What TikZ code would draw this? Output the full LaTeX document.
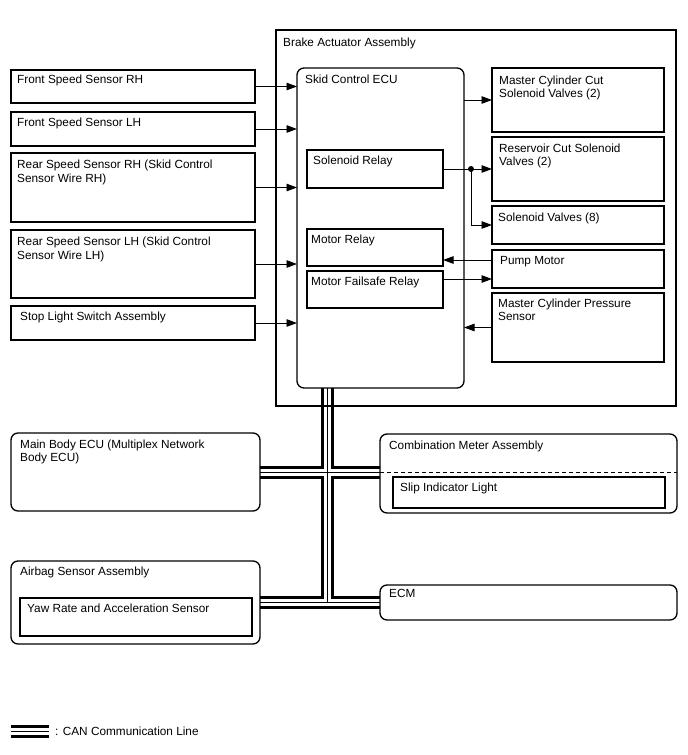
\documentclass[tikz,border=0pt]{standalone}
\usepackage{fontspec}
\setmainfont{Liberation Sans}
\usetikzlibrary{arrows.meta,calc}
\pgfdeclarelayer{bg}
\pgfsetlayers{bg,main}
\begin{document}
\begin{tikzpicture}[x=1pt,y=-1pt,
  box/.style={draw,line width=1.3pt,inner sep=0pt,outer sep=0pt,anchor=north west},
  rbox/.style={box,rounded corners=7pt},
  txt/.style={anchor=base west,inner sep=0pt,align=left,font=\fontsize{11.8}{13.6}\selectfont},
  conn/.style={line width=0.9pt},
  arr/.style={conn,-{Triangle[length=10.5pt,width=7.5pt]}},
  canA/.style={line width=13pt},
  canB/.style={white,line width=7pt},
  canC/.style={line width=0.9pt}]
\useasboundingbox (0,0) rectangle (688,755);

% boxes
\node[box,minimum width=400pt,minimum height=376pt] (frame) at (276,30) {};
\node[rbox,minimum width=167pt,minimum height=320pt] (ecu) at (297,68) {};
\node[box,minimum width=136pt,minimum height=38pt] (srelay) at (307,150) {};
\node[box,minimum width=136pt,minimum height=37pt] (mrelay) at (307,229) {};
\node[box,minimum width=136pt,minimum height=37pt] (mfrelay) at (307,271) {};
\node[box,minimum width=172pt,minimum height=64pt] (mccsv) at (492,68) {};
\node[box,minimum width=172pt,minimum height=64pt] (rcsv) at (492,137) {};
\node[box,minimum width=172pt,minimum height=38pt] (sv8) at (492,206) {};
\node[box,minimum width=172pt,minimum height=38pt] (pump) at (492,250) {};
\node[box,minimum width=172pt,minimum height=69pt] (mcps) at (492,293) {};
\node[box,minimum width=244pt,minimum height=33pt] (fsrh) at (11,70) {};
\node[box,minimum width=244pt,minimum height=34pt] (fslh) at (11,112) {};
\node[box,minimum width=244pt,minimum height=69pt] (rsrh) at (11,153) {};
\node[box,minimum width=244pt,minimum height=68pt] (rslh) at (11,230) {};
\node[box,minimum width=244pt,minimum height=34pt] (sls) at (11,306) {};
\node[rbox,minimum width=249pt,minimum height=78pt] (mbecu) at (11,433) {};
\node[rbox,minimum width=297pt,minimum height=79pt] (comb) at (380,434) {};
\node[box,minimum width=272pt,minimum height=31pt] (slip) at (393,477) {};
\node[rbox,minimum width=297pt,minimum height=35pt] (ecm) at (380,585) {};
\node[rbox,minimum width=249pt,minimum height=83pt] (airbag) at (11,561) {};
\node[box,minimum width=232pt,minimum height=38pt] (yaw) at (20,598) {};

% labels (base of a two-line label is its last line)
\node[txt] at ($(frame.north west)+(7,16)$) {Brake Actuator Assembly};
\node[txt] at ($(ecu.north west)+(8,15.5)$) {Skid Control ECU};
\node[txt] at ($(srelay.north west)+(6,14.5)$) {Solenoid Relay};
\node[txt] at ($(mrelay.north west)+(4,14.5)$) {Motor Relay};
\node[txt] at ($(mfrelay.north west)+(4,14.5)$) {Motor Failsafe Relay};
\node[txt] at ($(mccsv.north west)+(7,29.6)$) {Master Cylinder Cut\\Solenoid Valves (2)};
\node[txt] at ($(rcsv.north west)+(7,28.6)$) {Reservoir Cut Solenoid\\Valves (2)};
\node[txt] at ($(sv8.north west)+(6,15.5)$) {Solenoid Valves (8)};
\node[txt] at ($(pump.north west)+(8,14.5)$) {Pump Motor};
\node[txt] at ($(mcps.north west)+(6,27.6)$) {Master Cylinder Pressure\\Sensor};
\node[txt] at ($(fsrh.north west)+(6,13)$) {Front Speed Sensor RH};
\node[txt] at ($(fslh.north west)+(6,14)$) {Front Speed Sensor LH};
\node[txt] at ($(rsrh.north west)+(6,29.1)$) {Rear Speed Sensor RH (Skid Control\\Sensor Wire RH)};
\node[txt] at ($(rslh.north west)+(6,29.1)$) {Rear Speed Sensor LH (Skid Control\\Sensor Wire LH)};
\node[txt] at ($(sls.north west)+(9,14)$) {Stop Light Switch Assembly};
\node[txt] at ($(mbecu.north west)+(9,28.6)$) {Main Body ECU (Multiplex Network\\Body ECU)};
\node[txt] at ($(comb.north west)+(9,15.5)$) {Combination Meter Assembly};
\node[txt] at ($(slip.north west)+(7,14.5)$) {Slip Indicator Light};
\node[txt] at ($(ecm.north west)+(9,12.5)$) {ECM};
\node[txt] at ($(airbag.north west)+(9,14)$) {Airbag Sensor Assembly};
\node[txt] at ($(yaw.north west)+(7,14.5)$) {Yaw Rate and Acceleration Sensor};

% dashed divider
\draw[line width=1pt,dash pattern=on 4pt off 3pt] ($(comb.north west)+(0,38)$) -- ($(comb.north east)+(0,38)$);

% input arrows
\foreach \n in {fsrh,fslh,rsrh,rslh,sls}
  \draw[arr] (\n.east) -- (\n.east -| ecu.west);

% output arrows
\draw[arr] (ecu.east |- mccsv.west) -- (mccsv.west);
\coordinate (j) at ($(srelay.east)+(28,0)$);
\draw[conn] (srelay.east) -- (j);
\draw[arr] (j) -- (rcsv.west);
\draw[arr] (j) |- (sv8.west);
\fill (j) circle (3pt);
\coordinate (pm) at ($(pump.north west)+(0,10)$);
\draw[arr] (pm) -- (pm -| mrelay.east);
\coordinate (mf) at ($(mfrelay.north east)+(0,8)$);
\draw[arr] (mf) -- (mf -| pump.west);
\draw[arr] (mcps.west) -- (mcps.west -| ecu.east);

% CAN network
\coordinate (c1) at ($(ecu.south west)+(30,0)$);
\coordinate (c2) at (c1 |- airbag.east);
\coordinate (l1) at (11,731);
\coordinate (l2) at (49,731);
\begin{pgfonlayer}{bg}
  \foreach \s in {canA,canB,canC}{
    \draw[\s] (c1) -- (c2);
    \draw[\s] (mbecu.east) -- (mbecu.east -| comb.west);
    \draw[\s] (airbag.east) -- (ecm.west);
    \draw[\s] (l1) -- (l2);
  }
\end{pgfonlayer}
\node[txt] (leg) at (55,735) {: CAN Communication Line};
\end{tikzpicture}
\end{document}
